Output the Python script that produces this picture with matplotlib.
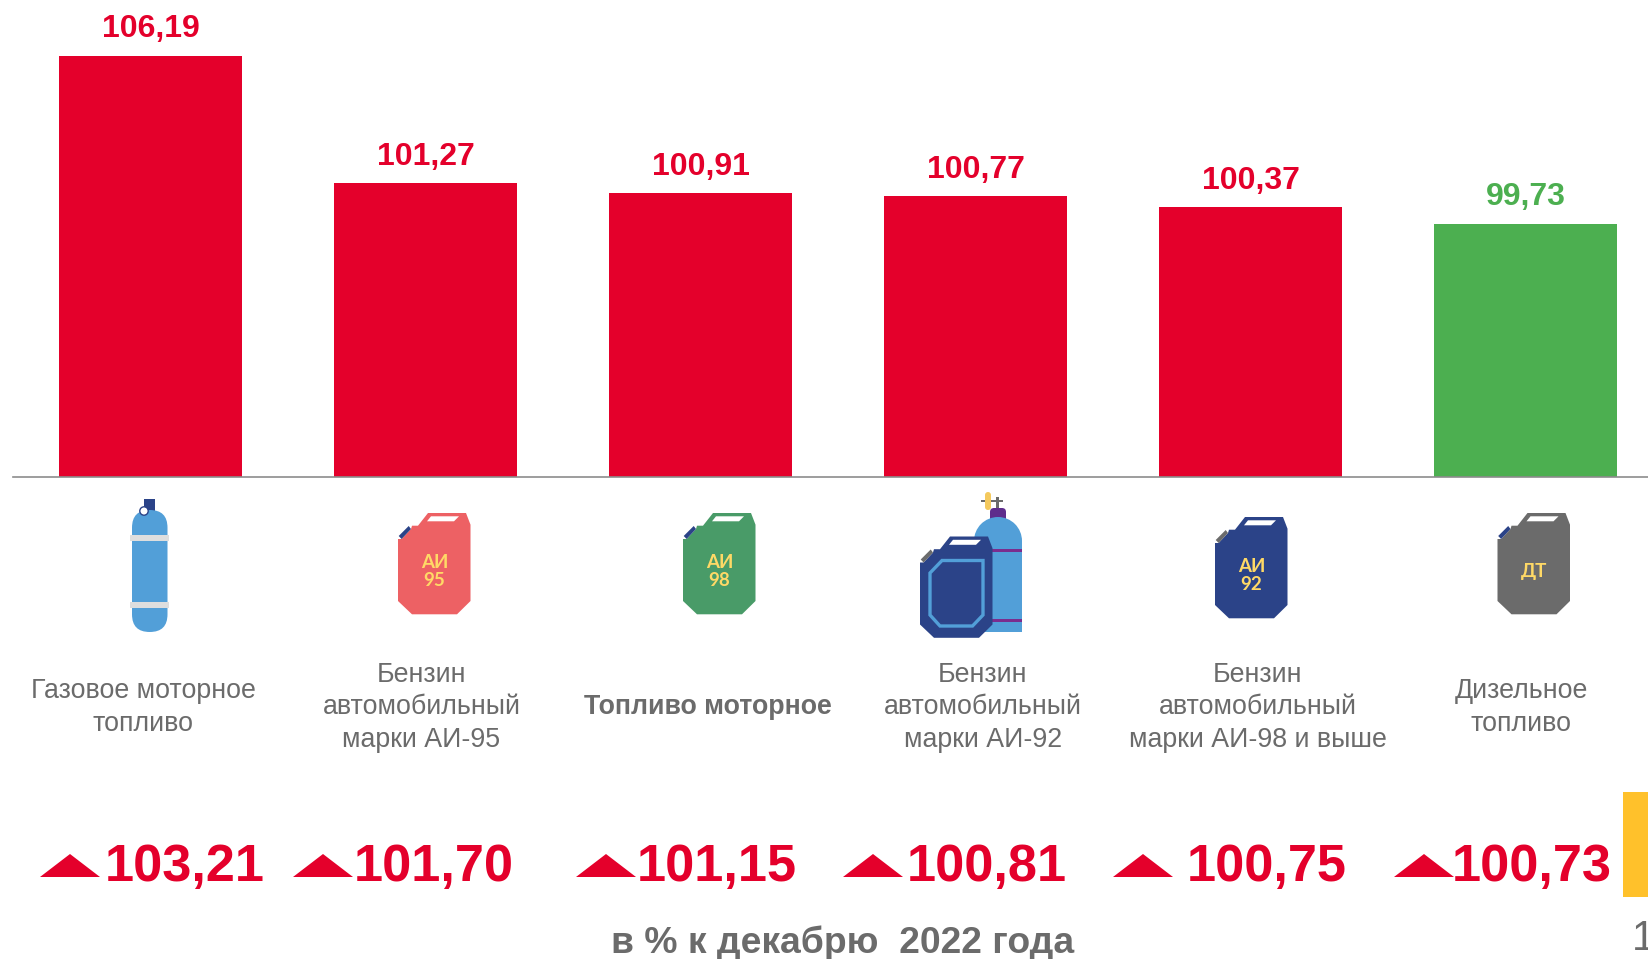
import matplotlib
matplotlib.use("Agg")
import matplotlib.pyplot as plt
from matplotlib.patches import Polygon, Rectangle, Circle, FancyBboxPatch, Wedge

plt.rcParams['font.family'] = ['Liberation Sans', 'DejaVu Sans']

# data
categories = ["Газовое моторное\nтопливо", "Бензин\nавтомобильный\nмарки АИ-95", "Топливо моторное",
              "Бензин\nавтомобильный\nмарки АИ-92", "Бензин\nавтомобильный\nмарки АИ-98 и выше",
              "Дизельное\nтопливо"]
values = [106.19, 101.27, 100.91, 100.77, 100.37, 99.73]
year_values = [103.21, 101.70, 101.15, 100.81, 100.75, 100.73]
footer = "в % к декабрю  2022 года"
page_number = "1"

RED = "#E4002B"
GREEN = "#4CAF50"
GRAY = "#6B6B6B"
NAVY = "#2B4388"
BLUE = "#529FD8"
W, H = 1648, 959


def comma(v):
    return f"{v:.2f}".replace(".", ",")


fig = plt.figure(figsize=(W / 100, H / 100), dpi=100, facecolor="white")

# bars, axes runs from the baseline to the top edge of the picture
ax = fig.add_axes([13 / W, 1 - 476.5 / H, (W - 13) / W, 476.5 / H])
ax.set_xlim(-0.5, 5.445)
ax.set_ylim(90, 90 + 476.5 / 26)
xs = list(range(len(values)))
colors = [GREEN if v < 100 else RED for v in values]
ax.bar(xs, values, width=0.667, color=colors)
for x, v, c in zip(xs, values, colors):
    ax.annotate(comma(v), (x, v), xytext=(0, 13.2), textcoords="offset points", ha="center", va="baseline",
                fontsize=23, fontweight="bold", color=c, annotation_clip=False)
for s in ["top", "left", "right"]:
    ax.spines[s].set_visible(False)
ax.spines["bottom"].set_color("#8C8C8C")
ax.spines["bottom"].set_linewidth(1.2)
ax.set_xticks([])
ax.set_yticks([])
ax.patch.set_alpha(0)

# everything below the baseline is placed in picture pixels
pa = fig.add_axes([0, 0, 1, 1], zorder=-1)
pa.set_xlim(0, W)
pa.set_ylim(H, 0)
pa.axis("off")


def can(x, y, body, cap, lines=()):
    shape = [(30, 0), (68, 0), (72.5, 11.7), (72.5, 88), (59, 101.3), (14, 101.3), (0, 88), (0, 26), (3.6, 26),
             (13, 16), (14, 12.7), (20, 12.7)]
    pa.add_patch(Polygon([(x + a, y + b) for a, b in shape], color=body, lw=0))
    pa.add_patch(Polygon([(x + a, y + b) for a, b in [(0.7, 23), (10.7, 13), (13, 16), (3.6, 26)]], color=cap, lw=0))
    pa.add_patch(Polygon([(x + a, y + b) for a, b in [(29, 8.3), (33, 3.3), (61, 3.3), (56, 8.3)]], color="white", lw=0))
    for t, dy in lines:
        pa.text(x + 36.5, y + dy, t, fontsize=13.5, family="Lato", fontweight="bold", color="#FFD966",
                ha="center", va="center")


# gas cylinder, first column
pa.add_patch(Rectangle((144, 499), 11, 13, color=NAVY, lw=0))
pa.add_patch(FancyBboxPatch((132 + 17.7, 510 + 17.7), 0.1, 122 - 35.4, boxstyle="round,pad=17.7,rounding_size=17.7",
                            color=BLUE, lw=0))
pa.add_patch(Rectangle((130, 535), 39, 6, color="#DEDEDE", lw=0))
pa.add_patch(Rectangle((130, 602), 39, 6, color="#DEDEDE", lw=0))
pa.add_patch(Circle((144, 511), 4.2, facecolor="white", edgecolor=NAVY, lw=1))

can(398, 513, "#ED6164", NAVY, [("АИ", 50), ("95", 68)])
can(683, 513, "#499B68", NAVY, [("АИ", 50), ("98", 68)])
can(1215, 517, NAVY, GRAY, [("АИ", 50), ("92", 68)])
can(1497.5, 513, GRAY, NAVY, [("ДТ", 58)])

# cylinder and big can, fourth column
pa.add_patch(Rectangle((981, 499.5), 22, 2.5, color=GRAY, lw=0))
pa.add_patch(Rectangle((996.5, 497), 2.5, 12, color=GRAY, lw=0))
pa.add_patch(FancyBboxPatch((985, 492), 6, 18, boxstyle="round,pad=0,rounding_size=3", color="#F4C95D", lw=0))
pa.add_patch(FancyBboxPatch((990, 508), 16, 14, boxstyle="round,pad=0,rounding_size=4", color="#5E2D8C", lw=0))
pa.add_patch(Rectangle((974, 541), 48, 91, color=BLUE, lw=0))
pa.add_patch(Wedge((998, 541), 24, 180, 360, color=BLUE, lw=0))
pa.add_patch(Rectangle((974, 549), 48, 2.5, color="#7B2D8E", lw=0))
pa.add_patch(Rectangle((974, 619), 48, 2.5, color="#7B2D8E", lw=0))
can(920, 536.5, NAVY, GRAY)
pa.add_patch(Polygon([(930, 573), (942, 560.5), (983, 560.5), (983, 615), (972.5, 626), (940, 626), (930, 615)],
                     closed=True, facecolor=NAVY, edgecolor=BLUE, lw=2.4))

# category names
name_x = [143, 421.5, 708, 983, 1258, 1521]
for x, name in zip(name_x, categories):
    bold = name == "Топливо моторное"
    pa.text(x, 707.5, name, fontsize=19.3, color=GRAY, ha="center", va="center", linespacing=1.31,
            fontweight="bold" if bold else "normal")

# growth to the previous year with arrows
tri_x = [40, 293, 576, 843, 1113, 1394]
val_right = [265, 514, 796.5, 1066.5, 1347, 1612]
for tx, rx, v in zip(tri_x, val_right, year_values):
    pa.add_patch(Polygon([(tx, 877), (tx + 30, 854), (tx + 60, 877)], color=RED, lw=0))
    pa.text(rx, 881, comma(v), fontsize=37.6, fontweight="bold", color=RED, ha="right", va="baseline")

pa.text(843, 953, footer, fontsize=26.85, fontweight="bold", color=GRAY, ha="center", va="baseline")
pa.add_patch(Rectangle((1623, 792), 25, 105, color="#FFC12B", lw=0))
pa.text(1632, 950, page_number, fontsize=30, color=GRAY, ha="left", va="baseline")

fig.savefig("out.png", dpi=100)
